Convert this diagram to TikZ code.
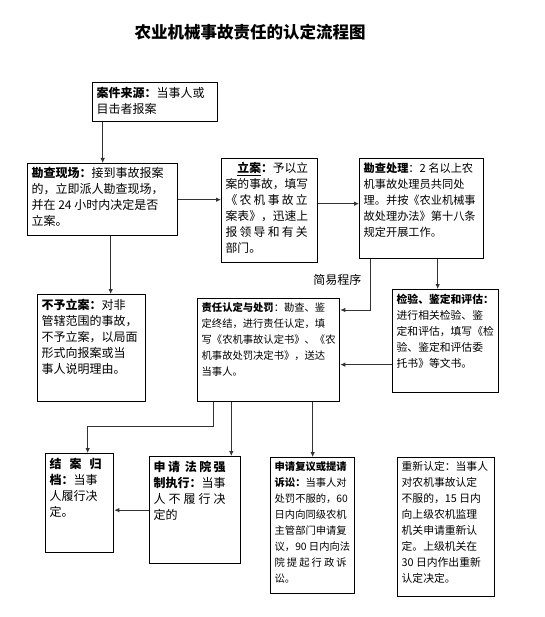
\documentclass[tikz,border=0pt]{standalone}
\usepackage{fontspec}
\setmainfont{Noto Sans CJK SC}
\usetikzlibrary{arrows.meta,positioning}
\newcommand{\fs}[1]{\fontsize{#1}{16}\selectfont}
\newcommand{\cell}[3]{\parbox[t][\dimexpr#2pt-8pt\relax][t]{\dimexpr#1pt-8pt\relax}{#3}}
\newcommand{\spr}[2]{\leavevmode\hbox to #1pt{#2}}
\tikzset{
  box/.style   = {rectangle, draw=black, line width=1.3pt, anchor=north west,
                  inner sep=4pt, align=left, font=\fs{12}},
  title/.style = {font=\fontsize{16.5}{20}\selectfont\bfseries},
  note/.style  = {font=\fs{12}},
  arr/.style   = {-{Latex[length=5pt,width=4.5pt]}, line width=0.8pt, draw=black!80}
}

\begin{document}
\begin{tikzpicture}[x=1pt, y=-1pt]
  \useasboundingbox (0,0) rectangle (544,617);
  \node[title] (head) at (250,32) {农业机械事故责任的认定流程图};

  \node[box] (yuan) at (92,82) {\cell{125}{39}{\textbf{案件来源：}当事人或\\目击者报案}};
  \node[box] (kancha) at (27,163) {\cell{150}{72}{\textbf{勘查现场：}接到事故报案\\的，立即派人勘查现场，\\并在 24 小时内决定是否\\立案。}};
  \node[box, font=\fs{11.8}] (lian) at (221,158) {\cell{96}{104}{\hspace{1em}\textbf{\underline{立案}：}予以立\\案的事故，填写\\\spr{82}{《\hfill 农\hfill 机\hfill 事\hfill 故\hfill 立}\\案表》，迅速上\\\spr{82}{报\hfill 领\hfill 导\hfill 和\hfill 有\hfill 关}\\部门。}};
  \node[box, font=\fs{11.2}] (chuli) at (359,158) {\cell{124}{100}{\textbf{勘查处理}：2 名以上农\\机事故处理员共同处\\理。并按《农业机械事\\故处理办法》第十八条\\规定开展工作。}};
  \node[box] (buyu) at (37,294) {\cell{108}{107}{\textbf{不予立案：}对非\\管辖范围的事故，\\不予立案，以局面\\形式向报案或当\\事人说明理由。}};
  \node[box, font=\fs{10.3}] (zeren) at (197,298) {\cell{142}{103}{\textbf{责任认定与处罚}：勘查、鉴\\定终结，进行责任认定，填\\写《农机事故认定书》、《农\\机事故处罚决定书》，送达\\当事人。}};
  \node[box, font=\fs{10.8}] (jianyan) at (392,289) {\cell{106}{103}{\textbf{检验、鉴定和评估：}\\进行相关检验、鉴\\定和评估，填写《检\\验、鉴定和评估委\\托书》等文书。}};
  \node[box] (jiean) at (45,453) {\cell{68}{99}{\textbf{结\hspace{8pt}案\hspace{8pt}归}\\\textbf{档：}当事\\人履行决\\定。}};
  \node[box] (fayuan) at (149,456) {\cell{91}{107}{\spr{72}{\bfseries 申\hfill 请\hfill\hfill 法\hfill 院\hfill 强}\\\textbf{制执行：}当事\\\spr{72}{人\hfill 不\hfill 履\hfill 行\hfill 决}\\定的}};
  \node[box, font=\fs{10.3}] (fuyi) at (270,457) {\cell{84}{136}{\textbf{申请复议或提请}\\\textbf{诉讼：}当事人对\\处罚不服的，60\\日内向同级农机\\主管部门申请复\\议，90~日内向法\\\spr{72}{院\hfill 提\hfill 起\hfill 行\hfill 政\hfill 诉}\\讼。}};
  \node[box, font=\fs{10.8}] (chongxin) at (397,457) {\cell{97}{139}{重新认定：当事人\\对农机事故认定\\不服的，15~日内\\向上级农机监理\\机关申请重新认\\定。上级机关在\\30~日内作出重新\\认定决定。}};

  \draw[arr] (kancha.north |- yuan.south) -- (kancha);
  \draw[arr] (kancha.east) -- (kancha.east -| lian.west);
  \draw[arr] ([yshift=7pt]lian.east) -- ([yshift=7pt]lian.east -| chuli.west);
  \draw[arr] ([xshift=8pt]kancha.south) -- ([xshift=8pt]kancha.south |- buyu.north);
  \draw[arr] ([xshift=11pt]chuli.south west) |- ([yshift=-12pt]zeren.north east)
    node[note, pos=0.2, left=5pt] (jianyi) {简易程序};
  \draw[arr] ([xshift=16pt]chuli.south) -- ([xshift=16pt]chuli.south |- jianyan.north);
  \draw[arr] ([yshift=-23.5pt]jianyan.west) -- ([yshift=-23.5pt]jianyan.west -| zeren.east);
  \draw[arr] ([xshift=16pt]zeren.south west) -- ++(0,24) -| ([xshift=8pt]jiean.north);
  \draw[arr] ([xshift=-10pt]fayuan.north east |- zeren.south) -- ([xshift=-10pt]fayuan.north east);
  \draw[arr] (fuyi.north |- zeren.south) -- (fuyi);
  \draw[arr] (fayuan.west) -- (fayuan.west -| jiean.east);
\end{tikzpicture}
\end{document}
